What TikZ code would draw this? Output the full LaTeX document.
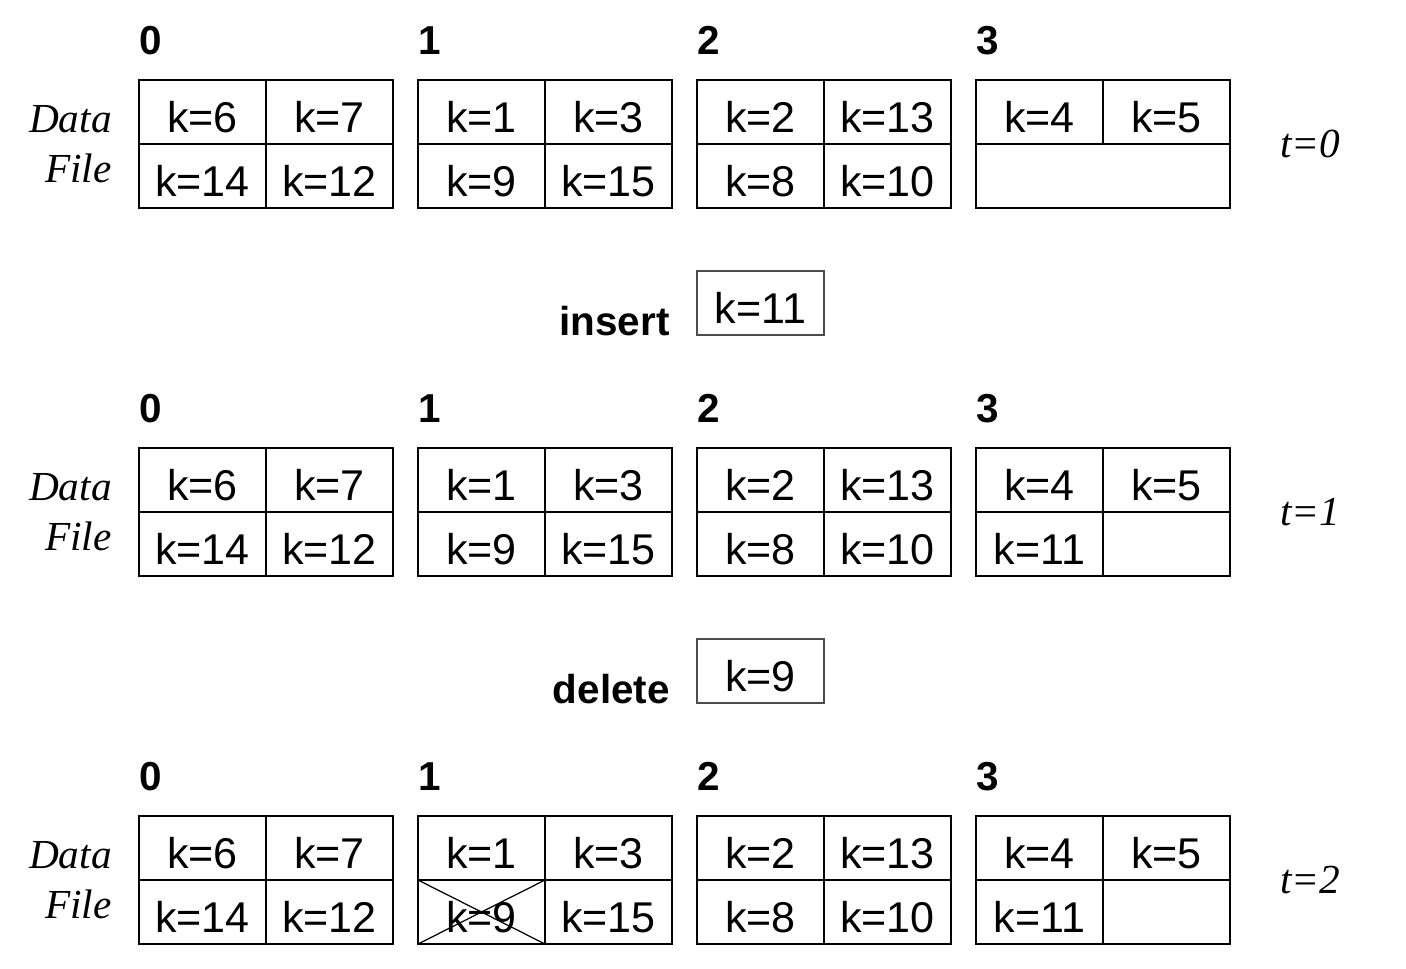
\documentclass[tikz,border=0pt]{standalone}
\usepackage{fontspec}
\setmainfont{Liberation Serif}
\setsansfont{Liberation Sans}
\usepackage{tikz}
\usetikzlibrary{positioning}

\begin{document}
\begin{tikzpicture}[
  cell/.style={draw,line width=1.1pt,outer sep=0pt,inner sep=0pt,
               minimum width=2.54cm,minimum height=1.28cm,
               text height=23pt,text depth=0pt,
               font=\sffamily\fontsize{24.5}{28}\selectfont},
  opcell/.style={cell,draw=black!70},
  num/.style={inner sep=0pt,font=\sffamily\bfseries\fontsize{23}{27}\selectfont},
  side/.style={inner sep=0pt,align=right,font=\itshape\fontsize{23.5}{28.4}\selectfont},
  xline/.style={line width=0.7pt}
]
\useasboundingbox (0,0) rectangle (28.12,-19.36);

% Buckets 0-2, the same in every snapshot.
\foreach \r/\ty in {0/-1.6,1/-8.96,2/-16.32} {
  \foreach \b/\bx/\ka/\kb/\kc/\kd in {0/2.78/6/7/14/12,1/8.36/1/3/9/15,
                                      2/13.94/2/13/8/10} {
    \node[cell,anchor=north west] (a\r\b) at (\bx,\ty) {k=\ka};
    \node[cell,right=0pt of a\r\b] (b\r\b) {k=\kb};
    \node[cell,below=0pt of a\r\b] (c\r\b) {k=\kc};
    \node[cell,below=0pt of b\r\b] (d\r\b) {k=\kd};
  }
  % Bucket 3, top row.
  \node[cell,anchor=north west] (a\r3) at (19.52,\ty) {k=4};
  \node[cell,right=0pt of a\r3] (b\r3) {k=5};
  % Bucket numbers.
  \foreach \b in {0,1,2,3}
    \node[num,above right=0.5cm and 0.0cm of a\r\b.north west] (n\r\b) {\b};
  % Row label and time.
  \node[side,left=0.54cm of a\r0.south west] (df\r) {Data\\File};
  \node[side,right=1cm of b\r3.south east] (t\r) {t=\r};
}

% Bucket 3, bottom row.
\node[cell,minimum width=5.08cm,anchor=north west] (c03) at (a03.south west) {};
\node[cell,below=0pt of a13] (c13) {k=11};
\node[cell,below=0pt of b13] (d13) {};
\node[cell,below=0pt of a23] (c23) {k=11};
\node[cell,below=0pt of b23] (d23) {};

% Operations.
\node[opcell,below=1.26cm of c02] (ins) {k=11};
\node[num,left=0.54cm of ins.south west,anchor=base east] (insl) {insert};
\node[opcell,below=1.26cm of c12] (del) {k=9};
\node[num,left=0.54cm of del.south west,anchor=base east] (dell) {delete};

% Deleted record.
\draw[xline] (c21.north west) -- (c21.south east)
             (c21.south west) -- (c21.north east);
\end{tikzpicture}
\end{document}
